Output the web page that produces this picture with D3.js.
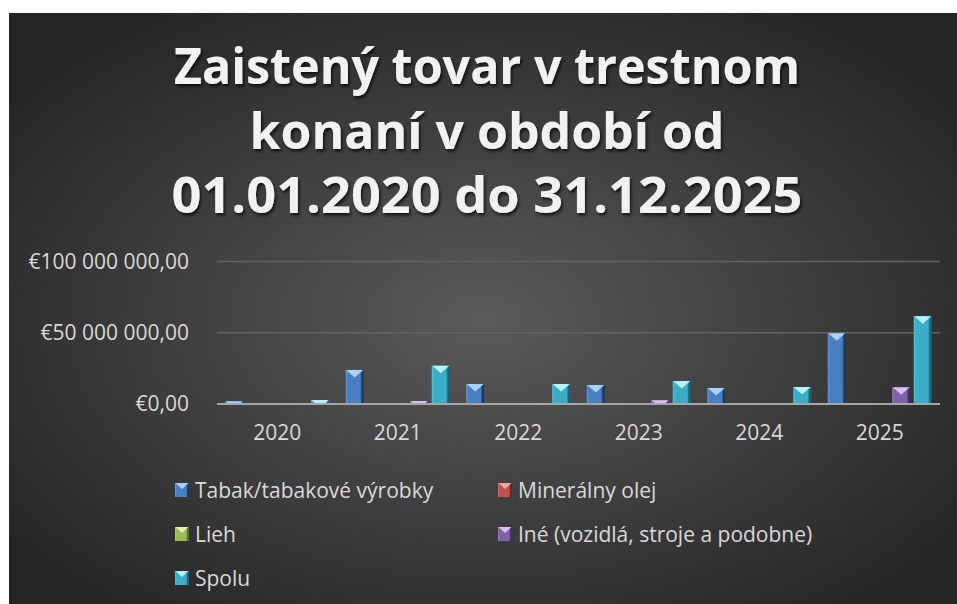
<!DOCTYPE html>
<html lang="sk">
<head>
<meta charset="utf-8">
<script src="https://cdn.jsdelivr.net/npm/d3@7"></script>
<style>
    html, body { margin: 0; padding: 0; background: #ffffff; }
    svg { display: block; }
    .tick-label { font-family: "Open Sans", sans-serif; font-size: 21px; fill: #d9d9d9; }
    .title-line { font-family: "Open Sans", sans-serif; font-weight: 700; font-size: 50px; fill: #f2f2f2; }
</style>
</head>
<body>
<div id="chart"></div>
<script>
// values in EUR (millions)
const years = ['2020', '2021', '2022', '2023', '2024', '2025'];
const seriesNames = ['Tabak/tabakové výrobky', 'Minerálny olej', 'Lieh', 'Iné (vozidlá, stroje a podobne)', 'Spolu'];
const tabak = [1.9, 23.9, 14.0, 13.3, 11.2, 49.7];
const mineralnyOlej = [0, 0, 0, 0, 0, 0];
const lieh = [0, 0, 0, 0, 0, 0];
const ine = [0, 2.1, 0.3, 2.7, 0.3, 11.7];
const spolu = [2.8, 26.9, 14.0, 16.1, 11.9, 61.7];
const yTicks = [0, 50e6, 100e6];
const titleLines = ['Zaistený tovar v trestnom', 'konaní v období od', '01.01.2020 do 31.12.2025'];

const seriesValues = [tabak, mineralnyOlej, lieh, ine, spolu];

// base / light (top facet) / dark (right edge) per series
const palette = [
    { base: '#4a7ec2', light: '#a9d2f7', dark: '#1d3a63', edge: '#6a98d2' },
    { base: '#c0504d', light: '#f2a8a6', dark: '#6e2120', edge: '#d27270' },
    { base: '#9bbb59', light: '#dcf0a8', dark: '#556c28', edge: '#b2cd78' },
    { base: '#7e62a8', light: '#d8c0f4', dark: '#43306a', edge: '#9a80c0' },
    { base: '#3badc6', light: '#b5f2ff', dark: '#1a6374', edge: '#5cc2d8' }
];

const W = 957, H = 604;
const panel = { x: 9, y: 13, w: 948, h: 591 };
const plot = { left: 217, right: 940, top: 261.6, bottom: 404 };

const svg = d3.select('#chart').append('svg')
    .attr('width', W)
    .attr('height', H)
    .attr('viewBox', `0 0 ${W} ${H}`);

const defs = svg.append('defs');

const bg = defs.append('radialGradient')
    .attr('id', 'bgGrad')
    .attr('cx', '50%').attr('cy', '52%').attr('r', '62%');
bg.append('stop').attr('offset', '0%').attr('stop-color', '#5a5a5a');
bg.append('stop').attr('offset', '100%').attr('stop-color', '#262626');

defs.append('filter')
    .attr('id', 'titleShadow')
    .attr('x', '-10%').attr('y', '-20%').attr('width', '120%').attr('height', '150%')
    .append('feDropShadow')
    .attr('dx', 1.5).attr('dy', 2.5).attr('stdDeviation', 1.6)
    .attr('flood-color', '#000').attr('flood-opacity', 0.7);

// horizontal shading for the bevelled bars
palette.forEach((c, i) => {
    const g = defs.append('linearGradient')
        .attr('id', `barGrad${i}`)
        .attr('x1', '0%').attr('x2', '100%').attr('y1', '0%').attr('y2', '0%');
    g.append('stop').attr('offset', '0%').attr('stop-color', c.edge);
    g.append('stop').attr('offset', '12%').attr('stop-color', c.base);
    g.append('stop').attr('offset', '80%').attr('stop-color', c.base);
    g.append('stop').attr('offset', '90%').attr('stop-color', c.dark);
    g.append('stop').attr('offset', '100%').attr('stop-color', c.dark);
});

svg.append('rect')
    .attr('x', panel.x).attr('y', panel.y)
    .attr('width', panel.w).attr('height', panel.h)
    .attr('fill', 'url(#bgGrad)');

// Title
const titleBaselines = [84, 148.5, 213];
const titleWidths = [626, 475, 631];
svg.append('g')
    .attr('filter', 'url(#titleShadow)')
    .selectAll('text')
    .data(titleLines)
    .enter()
    .append('text')
    .attr('class', 'title-line')
    .attr('x', 487)
    .attr('y', (d, i) => titleBaselines[i])
    .attr('text-anchor', 'middle')
    .attr('textLength', (d, i) => titleWidths[i])
    .attr('lengthAdjust', 'spacingAndGlyphs')
    .text(d => d);

// Scales
const x = d3.scaleBand()
    .domain(years)
    .range([plot.left, plot.right])
    .padding(0);

const xInner = d3.scaleBand()
    .domain(d3.range(seriesNames.length))
    .range([0, x.bandwidth()])
    .paddingInner(0.163)
    .paddingOuter(0.384);

const y = d3.scaleLinear()
    .domain([0, 100e6])
    .range([plot.bottom, plot.top]);

const fmtEuro = v => '€' + d3.format(',.2f')(v).replace(/,/g, ' ').replace('.', ',');

// Gridlines
svg.append('g')
    .selectAll('line')
    .data(yTicks.filter(t => t > 0))
    .enter()
    .append('line')
    .attr('x1', plot.left).attr('x2', plot.right)
    .attr('y1', d => y(d)).attr('y2', d => y(d))
    .attr('stroke', '#626262')
    .attr('stroke-width', 1.5);

// Y axis labels
const yAxis = svg.append('g')
    .attr('transform', 'translate(197,0)')
    .call(d3.axisLeft(y).tickValues(yTicks).tickFormat(fmtEuro).tickSize(0).tickPadding(8));
yAxis.select('.domain').remove();
yAxis.selectAll('text')
    .attr('class', 'tick-label')
    .attr('fill', null)
    .attr('font-size', null)
    .attr('font-family', null);

// Bars
const barData = [];
years.forEach((yr, yi) => {
    seriesValues.forEach((vals, si) => {
        barData.push({ year: yr, series: si, value: vals[yi] * 1e6 });
    });
});

const bars = svg.append('g')
    .selectAll('g')
    .data(barData.filter(d => d.value > 0))
    .enter()
    .append('g');

bars.append('rect')
    .attr('x', d => x(d.year) + xInner(d.series))
    .attr('y', d => y(d.value))
    .attr('width', xInner.bandwidth())
    .attr('height', d => y(0) - y(d.value))
    .attr('fill', d => `url(#barGrad${d.series})`);

// light triangular facet on top of each bar
bars.append('polygon')
    .attr('points', d => {
        const x0 = x(d.year) + xInner(d.series);
        const w = xInner.bandwidth();
        const top = y(d.value);
        const h = y(0) - top;
        const t = 7.5;
        if (h >= t) {
            return [[x0 + 0.5, top], [x0 + w - 0.5, top], [x0 + w / 2, top + t]].join(' ');
        }
        const k = (w / 2) * (h / t);
        return [[x0 + 0.5, top], [x0 + w - 0.5, top], [x0 + w - k, top + h], [x0 + k, top + h]].join(' ');
    })
    .attr('fill', d => palette[d.series].light);

// Category axis
svg.append('line')
    .attr('x1', plot.left).attr('x2', plot.right)
    .attr('y1', y(0)).attr('y2', y(0))
    .attr('stroke', '#a6a6a6')
    .attr('stroke-width', 2);

const xAxis = svg.append('g')
    .attr('transform', `translate(0,${y(0)})`)
    .call(d3.axisBottom(x).tickSize(0).tickPadding(21));
xAxis.select('.domain').remove();
xAxis.selectAll('text')
    .attr('class', 'tick-label')
    .attr('fill', null)
    .attr('font-size', null)
    .attr('font-family', null);

// Legend, two columns
const legendCols = [175, 498];
const legendRows = [490, 534, 578];
const legend = svg.append('g')
    .selectAll('g')
    .data(seriesNames)
    .enter()
    .append('g')
    .attr('transform', (d, i) => `translate(${legendCols[i % 2]},${legendRows[Math.floor(i / 2)]})`);

legend.append('rect')
    .attr('x', 0).attr('y', -7)
    .attr('width', 14).attr('height', 14)
    .attr('fill', (d, i) => `url(#barGrad${i})`);

legend.append('polygon')
    .attr('points', '0.5,-7 13.5,-7 7,-1')
    .attr('fill', (d, i) => palette[i].light);

legend.append('text')
    .attr('class', 'tick-label')
    .attr('x', 20)
    .attr('y', 0)
    .attr('dy', '0.36em')
    .text(d => d);
</script>
</body>
</html>
